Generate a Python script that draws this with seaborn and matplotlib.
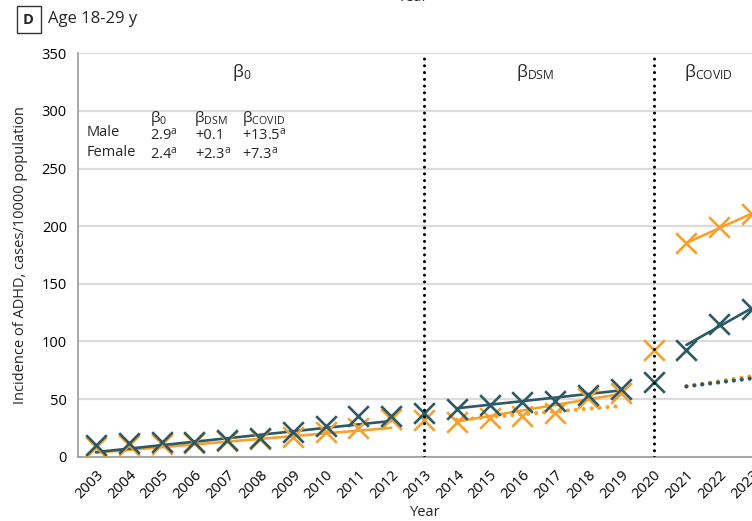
import numpy as np
import pandas as pd
import seaborn as sns
import matplotlib
matplotlib.use('Agg')
import matplotlib.pyplot as plt

# observed incidence per year (cases/10000)
years = list(range(2003, 2024))
male_obs = [10, 12, 12.5, 12.5, 14.5, 16, 21.5, 26.5, 35, 35, 38,
            41.5, 45, 47.5, 48, 53.5, 58.5, 65, 92.5, 115.5, 128.5]
female_obs = [8, 10, 11, 12, 14, 15, 17.5, 21, 25, 32.5, 32,
              30.5, 34, 35, 38, 50.5, 55, 92.5, 185.5, 199.5, 211]

# fitted segments (endpoints)
fit_x = [[2003, 2012], [2014, 2019], [2021, 2023]]
male_fit = [[4, 31], [42, 57.5], [97, 129]]
female_fit = [[3.5, 25], [30.5, 54.5], [185.5, 211]]

# counterfactual (dotted)
cf_x_female = [[2014, 2019], [2021, 2023]]
cf_female = [[32, 44], [61, 70]]
cf_x_male = [[2021, 2023]]
cf_male = [[61, 68]]

breaks = [2013, 2020]

TEAL = '#2d5965'
ORANGE = '#f7a12c'
FONT = 'Open Sans'

sns.set_theme(style='white')
plt.rcParams['font.family'] = [FONT, 'DejaVu Sans']
plt.rcParams['mathtext.fontset'] = 'custom'
plt.rcParams['mathtext.rm'] = FONT
plt.rcParams['mathtext.it'] = FONT

W, H = 752, 521
fig = plt.figure(figsize=(W / 100, H / 100), dpi=100)
x0, x1 = 2002.45, 2023.6
ax = fig.add_axes([78 / W, (H - 456.7) / H, (x1 - x0) * 32.8 / W, 403.4 / H])

obs = pd.DataFrame({'year': years * 2,
                    'value': male_obs + female_obs,
                    'sex': ['Male'] * len(years) + ['Female'] * len(years)})

for i, xs in enumerate(fit_x):
    seg = pd.DataFrame({'year': xs * 2, 'value': female_fit[i] + male_fit[i],
                        'sex': ['Female'] * 2 + ['Male'] * 2})
    sns.lineplot(data=seg, x='year', y='value', hue='sex',
                 palette={'Male': TEAL, 'Female': ORANGE}, lw=1.9,
                 legend=False, ax=ax, zorder=3)

for xs, ys in zip(cf_x_female, cf_female):
    ax.plot(xs, ys, color=ORANGE, lw=3, ls=(0, (0.01, 1.9)),
            dash_capstyle='round', zorder=2)
for xs, ys in zip(cf_x_male, cf_male):
    ax.plot(xs, ys, color=TEAL, lw=3, ls=(0, (0.01, 1.9)),
            dash_capstyle='round', zorder=2)

sns.scatterplot(data=obs[obs.sex == 'Female'], x='year', y='value', marker='x',
                s=220, color=ORANGE, linewidth=1.9, legend=False, ax=ax, zorder=4)
sns.scatterplot(data=obs[obs.sex == 'Male'], x='year', y='value', marker='x',
                s=220, color=TEAL, linewidth=1.9, legend=False, ax=ax, zorder=5)

for b in breaks:
    ax.plot([b, b], [0, 350], color='black', lw=2.2, ls=(0, (0.01, 2.2)),
            dash_capstyle='round', zorder=6)

ax.set_xlim(x0, x1)
ax.set_ylim(0, 350)
ax.set_yticks(range(0, 351, 50))
ax.set_xticks(years)
ax.set_xticklabels([str(y) for y in years], rotation=45, ha='right',
                   rotation_mode='anchor')
ax.yaxis.grid(True, color='#dcdcdc', lw=1.6)
ax.set_axisbelow(True)
for s in ['top', 'right']:
    ax.spines[s].set_visible(False)
for s in ['left', 'bottom']:
    ax.spines[s].set_color('#9a9a9a')
    ax.spines[s].set_linewidth(1.2)
ax.tick_params(axis='both', colors='#9a9a9a', length=5, width=1.2,
               labelcolor='black', labelsize=10.5, pad=3)
ax.set_xlabel('Year', fontsize=10.5, labelpad=2)
ax.set_ylabel('Incidence of ADHD, cases/10000 population', fontsize=10.5)
ax.yaxis.set_label_coords(-0.072, 0.5)


def ft(px, py, s, **kw):
    kw.setdefault('fontsize', 10.5)
    fig.text(px / W, 1 - py / H, s, **kw)


ft(413, 5, 'Year', ha='center', va='bottom')
ft(48, 19, 'Age 18-29 y', ha='left', va='center', fontsize=12)
ft(28.5, 19.5, 'D', ha='center', va='center', fontsize=10.5, fontweight='bold',
   bbox=dict(boxstyle='square,pad=0.45', fc='white', ec='#333333', lw=1))

ft(242, 72, r'$\mathrm{β_0}$', ha='center', va='center', fontsize=12.5)
ft(535, 72, r'$\mathrm{β_{DSM}}$', ha='center', va='center', fontsize=12.5)
ft(708, 72, r'$\mathrm{β_{COVID}}$', ha='center', va='center', fontsize=12.5)

ft(150, 118, r'$\mathrm{β_0}$', ha='left', va='center', fontsize=11)
ft(194, 118, r'$\mathrm{β_{DSM}}$', ha='left', va='center', fontsize=11)
ft(242, 118, r'$\mathrm{β_{COVID}}$', ha='left', va='center', fontsize=11)
ft(87, 133, 'Male', ha='left', va='center')
ft(87, 152, 'Female', ha='left', va='center')
ft(150, 136, r'2.9$^\mathrm{a}$', ha='left', va='center')
ft(195, 136, '+0.1', ha='left', va='center')
ft(242, 136, r'+13.5$^\mathrm{a}$', ha='left', va='center')
ft(150, 155, r'2.4$^\mathrm{a}$', ha='left', va='center')
ft(195, 155, r'+2.3$^\mathrm{a}$', ha='left', va='center')
ft(242, 155, r'+7.3$^\mathrm{a}$', ha='left', va='center')

fig.savefig('out.png', dpi=100)
